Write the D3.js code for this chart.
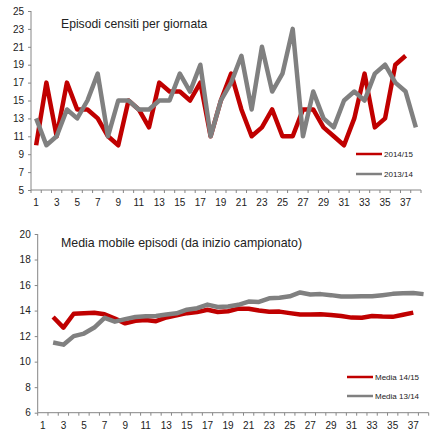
<!DOCTYPE html>
<html><head><meta charset="utf-8">
<script src="https://cdn.jsdelivr.net/npm/d3@7/dist/d3.min.js"></script>
<style>body{margin:0;background:#fff}svg{display:block}text{font-family:"Liberation Sans",Arial,sans-serif;fill:#222}</style>
</head><body><svg id="c" width="438" height="441"></svg>
<script>
const giornate = d3.range(1, 39).map(String);
const xTickLabels = giornate.filter((d, i) => i % 2 === 0);
// Top chart: episodes per match day
const ep1415 = [10,17,11,17,14,14,13,11,10,15,14,12,17,16,16,15,17,11,15,18,14,11,12,14,11,11,14,14,12,11,10,13,18,12,13,19,20];
const ep1314 = [13,10,11,14,13,15,18,11,15,15,14,14,15,15,18,16,19,11,15,17,20,14,21,16,18,23,11,16,13,12,15,16,15,18,19,17,16,12];
const topYTicks = [5,7,9,11,13,15,17,19,21,23,25];
// Bottom chart: running average (from match day 2)
const media1415 = [null,13.5,12.67,13.75,13.8,13.83,13.71,13.38,13.0,13.2,13.27,13.17,13.46,13.64,13.8,13.88,14.06,13.89,13.95,14.15,14.14,14.0,13.91,13.92,13.8,13.69,13.7,13.71,13.66,13.57,13.45,13.44,13.58,13.53,13.51,13.67,13.84];
const media1314 = [null,11.5,11.33,12.0,12.2,12.67,13.43,13.13,13.33,13.5,13.55,13.58,13.69,13.79,14.07,14.19,14.47,14.28,14.32,14.45,14.71,14.68,14.96,15.0,15.12,15.42,15.26,15.29,15.21,15.1,15.1,15.13,15.12,15.21,15.31,15.36,15.38,15.29];
const botYTicks = [6,8,10,12,14,16,18,20];
const RED = "#c00000", GREY = "#808080", AXIS = "#868686";

const svg = d3.select("#c");

function chart(cfg) {
  const g = svg.append("g");
  const x = d3.scaleBand().domain(giornate).range([cfg.x0, cfg.x1]);
  const y = d3.scaleLinear().domain(cfg.yDomain).range([cfg.yBottom, cfg.yTop]);
  const xc = d => x(d) + x.bandwidth() / 2;
  const ya = g.append("g").attr("transform", `translate(${cfg.x0},0)`)
    .call(d3.axisLeft(y).tickValues(cfg.yTicks).tickSize(3).tickPadding(4));
  const xa = g.append("g").attr("transform", `translate(0,${cfg.yBottom})`)
    .call(d3.axisBottom(x).tickValues(xTickLabels).tickSize(0).tickPadding(9));
  g.append("g").selectAll("line").data(d3.range(0, 39)).join("line")
    .attr("x1", i => cfg.x0 + i * x.step()).attr("x2", i => cfg.x0 + i * x.step())
    .attr("y1", cfg.yBottom).attr("y2", cfg.yBottom + 3)
    .attr("stroke", AXIS).attr("stroke-width", 1);
  [ya, xa].forEach(a => {
    a.selectAll("path").attr("stroke", AXIS);
    a.selectAll("line").attr("stroke", AXIS);
    a.selectAll("text").attr("font-size", 10).style("font-family", '"Liberation Sans",Arial,sans-serif').attr("fill", "#222");
  });
  ya.select(".domain").attr("d", `M0,${cfg.yTop}V${cfg.yBottom}`);
  xa.select(".domain").attr("d", `M${cfg.x0},0H${cfg.x1}`);
  const line = d3.line().defined(d => d[1] != null).x(d => xc(d[0])).y(d => y(d[1]));
  cfg.series.forEach(s => {
    g.append("path").datum(s.values.map((v, i) => [giornate[i], v]))
      .attr("fill", "none").attr("stroke", s.color).attr("stroke-width", 4.5)
      .attr("stroke-linejoin", "round").attr("d", line);
  });
  g.append("text").attr("x", cfg.titleX).attr("y", cfg.titleY).attr("font-size", cfg.titleSize).text(cfg.title);
  cfg.series.forEach((s, i) => {
    const ly = cfg.legY + i * cfg.legGap;
    g.append("line").attr("x1", cfg.legX).attr("x2", cfg.legX + 26).attr("y1", ly).attr("y2", ly)
      .attr("stroke", s.color).attr("stroke-width", 2.5);
    g.append("text").attr("x", cfg.legX + 28).attr("y", ly + 3).attr("font-size", 8).text(s.name);
  });
}

chart({x0: 31, x1: 421, yTop: 11, yBottom: 190, yDomain: [5, 25], yTicks: topYTicks,
  title: "Episodi censiti per giornata", titleX: 61, titleY: 28, titleSize: 12.2,
  legX: 356, legY: 154, legGap: 20,
  series: [{name: "2014/15", values: ep1415, color: RED}, {name: "2013/14", values: ep1314, color: GREY}]});

chart({x0: 37.7, x1: 428.7, yTop: 234, yBottom: 412.7, yDomain: [6, 20], yTicks: botYTicks,
  title: "Media mobile episodi (da inizio campionato)", titleX: 61, titleY: 247, titleSize: 12.4,
  legX: 347, legY: 377, legGap: 19,
  series: [{name: "Media 14/15", values: media1415, color: RED}, {name: "Media 13/14", values: media1314, color: GREY}]});
</script></body></html>
